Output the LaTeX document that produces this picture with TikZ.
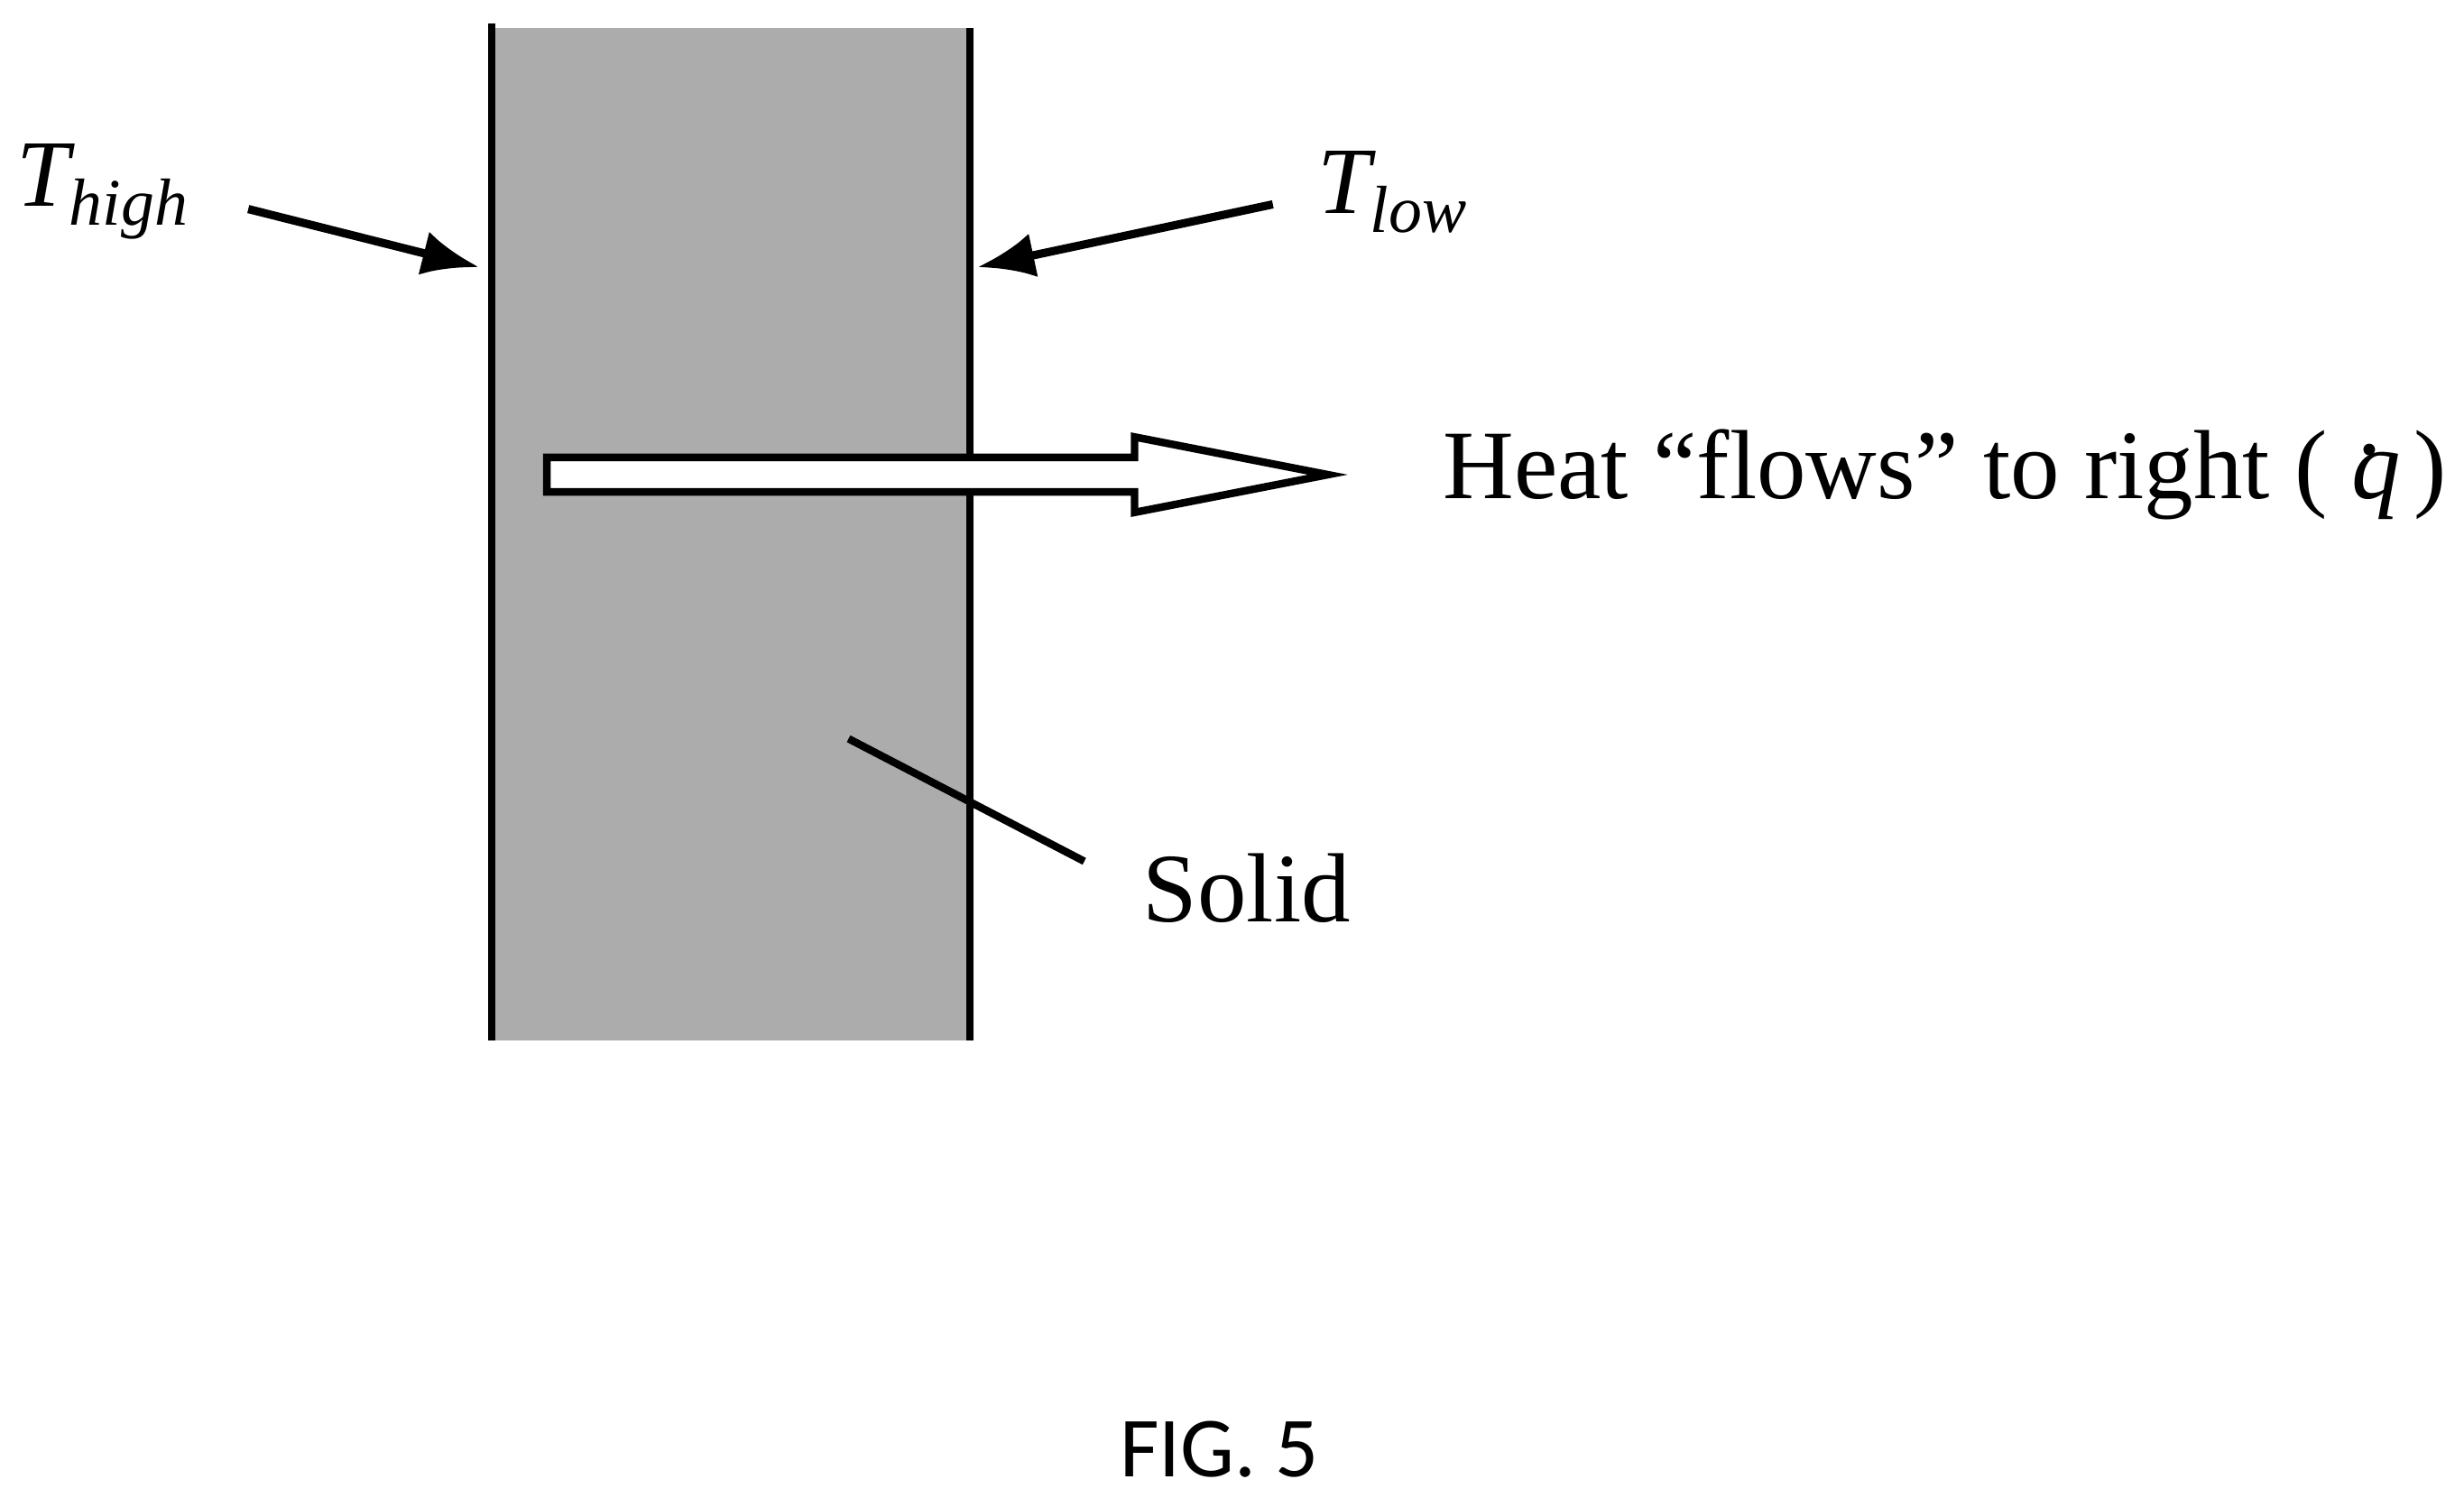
\documentclass[tikz,border=0pt]{standalone}
\usepackage{fontspec}
\setmainfont{Liberation Serif}
\newfontfamily\figfont{Carlito}
\begin{document}
\begin{tikzpicture}[x=0.01742cm,y=-0.01742cm,
  wall/.style={line width=2.2pt},
  ptr/.style={line width=2.6pt,-{Latex[length=18pt,width=14pt]}},
  lbl/.style={font=\fontsize{31}{36}\selectfont,inner sep=0pt}]
\usetikzlibrary{arrows.meta}
\useasboundingbox (0,0) rectangle (1568,953);
\fill[gray!65] (313,18) rectangle (617,662);
\draw[wall] (313,15) -- (313,662);
\draw[wall] (617,18) -- (617,662);
\node[lbl,anchor=west,font=\fontsize{30}{34}\selectfont] (th) at (10,122) {\textit{T\textsubscript{high}}};
\node[lbl,anchor=west,font=\fontsize{30}{34}\selectfont] (tl) at (838,122) {\textit{T\textsubscript{low}}};
\coordinate (a1) at (158,133); \coordinate (a2) at (305,170);
\coordinate (b1) at (810,130); \coordinate (b2) at (622,170);
\draw[ptr] (a1) -- (a2);
\draw[ptr] (b1) -- (b2);
\draw[line width=2.4pt,fill=white] (348,291) -- (722,291) -- (722,278) -- (845,302) -- (722,326) -- (722,313) -- (348,313) -- cycle;
\node[lbl,anchor=west] (heat) at (918,302) {Heat “flows” to right ( \textit{q\kern-0.42em\raisebox{0.45em}{.}\kern0.3em})};
\coordinate (s1) at (540,470); \coordinate (s2) at (690,548);
\draw[line width=2.4pt] (s1) -- (s2);
\node[lbl,anchor=west] (solid) at (727,565) {Solid};
\node[font=\figfont\fontsize{27}{31}\selectfont] (fig) at (776,922) {FIG. 5};
\end{tikzpicture}
\end{document}
